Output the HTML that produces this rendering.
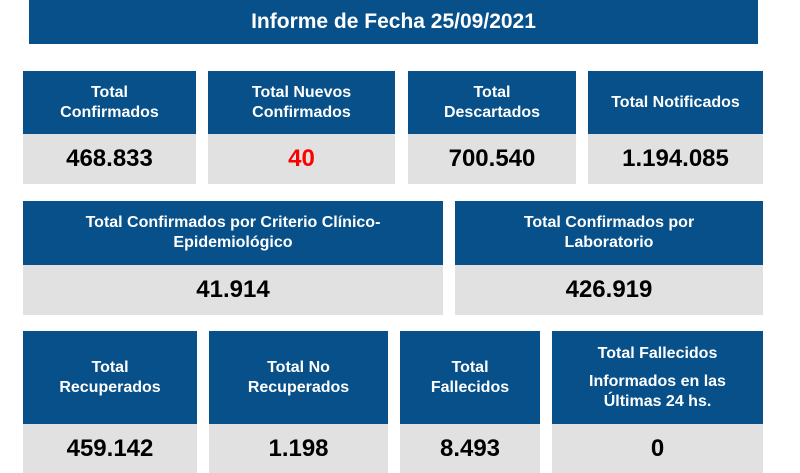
<!DOCTYPE html>
<html><head><meta charset="utf-8"><style>
body{margin:0;width:800px;height:473px;background:#fff;overflow:hidden;position:relative;font-family:"Liberation Sans",Arial,sans-serif;}
.t{position:absolute;left:29px;top:0;width:729px;height:44px;background:#07508a;color:#fff;font-weight:bold;font-size:21px;display:flex;align-items:center;justify-content:center;}
.c{position:absolute;}
.h{background:#07508a;color:#fff;font-weight:bold;font-size:16px;line-height:20px;display:flex;align-items:center;justify-content:center;text-align:center;}
.h span{display:block;}
.v{background:#e1e1e1;color:#000;font-weight:bold;font-size:24px;display:flex;align-items:center;justify-content:center;}
</style></head><body>
<div class="t">Informe de Fecha 25/09/2021</div>
<div id="cards"></div>
<script>
const cards=[
[23,71,173,63,50,"Total<br>Confirmados","468.833",""],
[208,71,187,63,50,"Total Nuevos<br>Confirmados","40","#f00"],
[408,71,168,63,50,"Total<br>Descartados","700.540",""],
[588,71,175,63,50,"Total Notificados","1.194.085",""],
[23,201,420,64,50,"Total Confirmados por Criterio Clínico-<br>Epidemiológico","41.914",""],
[455,201,308,64,50,"Total Confirmados por<br>Laboratorio","426.919",""],
[23,331,174,93,49,"Total<br>Recuperados","459.142",""],
[209,331,179,93,49,"Total No<br>Recuperados","1.198",""],
[400,331,140,93,49,"Total<br>Fallecidos","8.493",""],
[552,331,211,93,49,"Total Fallecidos<span style='height:8px'></span>Informados en las<br>Últimas 24 hs.","0",""]];
const root=document.getElementById('cards');
cards.forEach((d,i)=>{
const c=document.createElement('div');c.className='c';


c.style.cssText=`left:${d[0]}px;top:${d[1]}px;width:${d[2]}px;`;
const h=document.createElement('div');h.className='h';h.style.height=d[3]+'px';
h.innerHTML='<span>'+d[5]+'</span>';


const v=document.createElement('div');v.className='v';v.style.height=d[4]+'px';v.textContent=d[6];if(d[7])v.style.color=d[7];


c.appendChild(h);c.appendChild(v);root.appendChild(c);});
</script>
</body></html>
